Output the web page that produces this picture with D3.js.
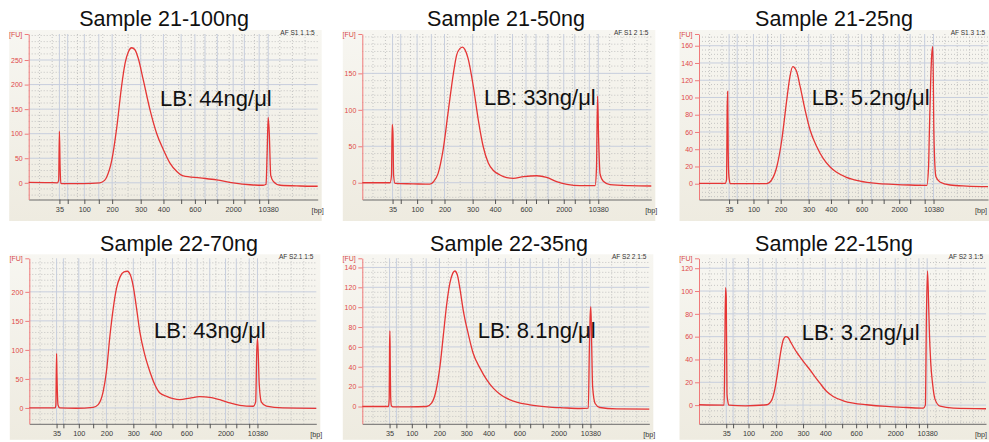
<!DOCTYPE html>
<html>
<head>
<meta charset="utf-8">
<style>
  body { margin: 0; background: #fff; }
  svg { display: block; font-family: "Liberation Sans", Arial, sans-serif; }
</style>
</head>
<body>
<script src="https://cdn.jsdelivr.net/npm/d3@7"></script>
<script>

// ---- data ----
var titles = ["Sample 21-100ng", "Sample 21-50ng", "Sample 21-25ng",
              "Sample 22-70ng", "Sample 22-35ng", "Sample 22-15ng"];
var lbLabels = ["LB: 44ng/\u03bcl", "LB: 33ng/\u03bcl", "LB: 5.2ng/\u03bcl",
                "LB: 43ng/\u03bcl", "LB: 8.1ng/\u03bcl", "LB: 3.2ng/\u03bcl"];
var runLabels = ["AF S1 1 1:5", "AF S1 2 1:5", "AF S1 3 1:5",
                 "AF S2.1 1:5", "AF S2 2 1:5", "AF S2 3 1:5"];

// ladder sizes (bp) and their migration times (s) on each chip
var ladderBp = [35, 50, 100, 150, 200, 300, 400, 500, 600, 700, 1000, 2000, 3000, 7000, 10380];
var labeledBp = [35, 100, 200, 300, 400, 600, 2000, 10380];
var ladderTimeChip1 = [48.5, 50.8, 55.4, 59.4, 63.1, 71.0, 77.3, 82.2, 86.0, 88.8, 92.2, 96.6, 99.7, 103.8, 106.3];
var ladderTimeChip2 = [47.6, 49.5, 53.8, 57.8, 61.5, 69.0, 75.2, 79.9, 83.8, 86.8, 90.3, 94.7, 97.7, 101.3, 103.6];
var panelChip = [1, 1, 1, 2, 2, 2];

var timeStart = 40;
var timeEnd = [120, 121.2, 121.7, 120, 120, 120];
var fuMin = [-34, -23, -18.3, -27.3, -17.4, -16.4];
var fuMax = [303, 204, 173.6, 257.8, 149.2, 128.7];
var fuTicks = [
  [0, 50, 100, 150, 200, 250],
  [0, 50, 100, 150],
  [0, 20, 40, 60, 80, 100, 120, 140, 160],
  [0, 50, 100, 150, 200],
  [0, 20, 40, 60, 80, 100, 120, 140],
  [0, 20, 40, 60, 80, 100, 120]
];
var fuMinor = [12.5, 10, 5, 10, 5, 5];

// traces: [time (s), fluorescence (FU)]
var trace1 = [[40,1],[45.9,0.5],[47.9,0],[48.3,5],[48.5,105],[48.7,30],[48.9,-1],[49.3,-1.5],[55.1,-1.5],[59.7,0],[61.0,5],[61.6,12],[63.0,46],[64.4,114],[65.7,196],[66.7,244],[67.6,267],[68.5,275],[69.4,271],[70.3,254],[71.7,210],[73.6,148],[75.4,101],[77.3,67],[79.1,40],[81.0,23],[82.8,14],[87.4,10],[92.0,6],[96.6,0],[101.3,-4],[104.9,-5],[105.7,-3],[106.0,60],[106.3,133],[106.6,100],[107.0,15],[107.7,3],[109.6,-5],[115.1,-6.5],[120,-7]];
var trace2 = [[40,0],[47.8,0],[48.2,10],[48.4,80],[48.6,70],[48.8,10],[49.2,-1],[54.2,-1.5],[59.0,-2],[60.0,1.4],[61.3,12.8],[62.7,45],[64.2,100],[65.6,150],[66.5,175],[67.4,184],[68.2,186],[68.8,183],[69.7,171],[71.2,132],[72.6,86],[74.0,49],[75.4,27],[76.9,16.5],[78.7,10.6],[80.6,7],[82.4,6],[85.3,8.3],[89.0,9.6],[91.8,7.4],[94.6,1.4],[97.5,-2.2],[101.2,-4],[105.4,-4],[105.8,20],[106.1,119],[106.4,60],[106.8,12],[107.7,2],[109.6,-2.5],[115.2,-4],[121.2,-4.5]];
var trace3 = [[40,0.5],[47.4,0.5],[47.8,5],[47.95,83],[48.1,107],[48.25,40],[48.4,12],[48.6,4],[48.8,0],[55,0],[59.1,0.2],[60.5,4.3],[62.0,19.7],[63.4,50.7],[64.8,97],[65.7,124],[66.5,135.7],[67.6,130],[68.6,112.5],[70.0,85.4],[71.4,62.3],[73.3,42.9],[75.1,29.4],[77.0,19.7],[78.9,13.2],[81.7,7.4],[85.5,3.1],[90.2,0.4],[94.9,-0.7],[99.6,-1.5],[104.4,-1.9],[104.9,20],[105.1,55],[105.5,120],[105.8,150],[106.1,159],[106.4,60],[106.7,20],[107.0,8],[108.1,2],[111.0,-1.5],[115.7,-2.7],[121.7,-3.4]];
var trace4 = [[40,0],[47.2,0],[47.4,5],[47.6,94],[47.7,60],[47.8,33],[48.0,5],[48.5,0],[53,-0.5],[57.8,1.1],[59.2,5.7],[60.6,28.5],[61.5,62.8],[62.5,125.7],[63.4,171.5],[64.3,205.8],[65.3,225.8],[66.4,234.4],[67.3,235.5],[68.2,228.6],[69.0,208.6],[69.9,171.5],[70.8,131.4],[72.2,91.4],[73.6,62.8],[75.0,40],[76.4,25.7],[78.3,20],[80.1,16],[82.0,14.3],[84.8,17.1],[87.5,19.4],[90.3,18.3],[93.1,14.3],[95.9,8.6],[98.7,4.6],[102.4,2.9],[103.1,10],[103.4,97],[103.6,120],[103.8,97],[104.1,40],[104.7,10],[106.1,3],[110.7,0],[120,-0.6]];
var trace5 = [[40,0],[47.3,0],[47.5,8],[47.6,60],[47.7,76],[47.8,40],[47.9,10],[48.1,1],[48.6,-0.3],[53,-0.3],[57.9,0],[59.3,3.4],[60.5,15.1],[61.7,41.9],[62.6,72.1],[63.5,102.2],[64.4,124],[65.2,134],[65.8,136.4],[66.5,132.4],[67.2,119],[68.2,95.5],[69.6,72.1],[70.9,53.6],[72.8,38.6],[74.7,26.8],[76.5,18.5],[78.4,12.4],[80.2,8.4],[83.0,4.4],[86.7,1.7],[91.4,-0.3],[96.0,-1.3],[100.7,-2],[103.0,-1.6],[103.3,60],[103.5,90],[103.7,100.5],[103.9,70],[104.2,20],[104.9,3],[106.2,-1],[110.9,-2.3],[120,-2.6]];
var trace6 = [[40,0.3],[47.0,0],[47.2,50],[47.4,103],[47.6,95],[47.8,10],[48.0,4],[48.3,0],[53,-0.6],[58.9,0.3],[60.3,4.6],[61.2,14.9],[62.1,32.4],[62.8,47],[63.5,57.2],[64.2,60.1],[64.9,59],[65.6,55],[66.4,50.5],[67.3,46],[68.2,42],[69.5,36.5],[70.9,31],[72.3,25],[73.7,19.2],[75.6,11.9],[77.4,7.6],[80.2,3.8],[83.0,1.7],[86.7,0.3],[92.3,-1.2],[97.9,-2.1],[102.5,-2.7],[103.1,0],[103.4,80],[103.7,117.6],[104.0,90],[104.2,65.8],[104.6,37],[105.1,19],[105.8,5],[107.2,-1],[110.9,-2.7],[120,-3.2]];
var traces = [trace1, trace2, trace3, trace4, trace5, trace6];

// ---- layout ----
var W = 989, H = 442;
var plotLeft = [28.7, 362.3, 699, 29.3, 362.3, 699];
var plotTop = [34, 34, 34, 258.3, 258.3, 258.3];
var plotW = [289, 289, 289, 287, 287, 287];
var plotH = 165.5;
var bgBottom = [21.5, 21.5, 21.5, 16, 16, 16];
var titleX = [164, 506, 834, 179, 509, 834];
var titleY = [25.5, 25.5, 25.5, 251, 251, 251];
var lbX = [160, 484, 811.7, 154, 477.7, 801.7];
var lbY = [106, 105, 105, 338.3, 338.3, 340];

var svg = d3.select("body").append("svg")
    .attr("width", W)
    .attr("height", H);

var defs = svg.append("defs");
var grad = defs.append("linearGradient")
    .attr("id", "bg")
    .attr("x1", 0).attr("y1", 0).attr("x2", 0).attr("y2", 1);
grad.append("stop").attr("offset", "0%").attr("stop-color", "#f7f6f1");
grad.append("stop").attr("offset", "100%").attr("stop-color", "#eeebe0");

traces.forEach(function(trace, i) {
  var w = plotW[i], h = plotH;
  var ladderTime = panelChip[i] == 1 ? ladderTimeChip1 : ladderTimeChip2;

  var x = d3.scaleLinear().domain([timeStart, timeEnd[i]]).range([0, w]);
  var y = d3.scaleLinear().domain([fuMin[i], fuMax[i]]).range([h, 0]);

  var g = svg.append("g")
      .attr("transform", "translate(" + plotLeft[i] + "," + plotTop[i] + ")");

  // panel background
  g.append("rect")
      .attr("x", -19.5)
      .attr("y", -4)
      .attr("width", w + 23.5)
      .attr("height", h + 4 + bgBottom[i])
      .attr("fill", "url(#bg)");

  // dotted minor grid
  var minorY = d3.range(Math.ceil(fuMin[i] / fuMinor[i]) * fuMinor[i], fuMax[i], fuMinor[i])
      .filter(function(v) { return fuTicks[i].indexOf(v) < 0; });
  g.selectAll(".minor-y")
      .data(minorY)
    .enter().append("line")
      .attr("x1", 0).attr("x2", w)
      .attr("y1", function(d) { return y(d); })
      .attr("y2", function(d) { return y(d); })
      .attr("stroke", "#b9b9b9")
      .attr("stroke-width", 0.8)
      .attr("stroke-dasharray", "1,2");

  g.selectAll(".minor-x")
      .data(d3.range(43, timeEnd[i], 3.5))
    .enter().append("line")
      .attr("y1", 0).attr("y2", h)
      .attr("x1", function(d) { return x(d); })
      .attr("x2", function(d) { return x(d); })
      .attr("stroke", "#b9b9b9")
      .attr("stroke-width", 0.8)
      .attr("stroke-dasharray", "1,2");

  // solid major grid
  g.selectAll(".major-y")
      .data(fuTicks[i])
    .enter().append("line")
      .attr("x1", 0).attr("x2", w)
      .attr("y1", function(d) { return y(d); })
      .attr("y2", function(d) { return y(d); })
      .attr("stroke", "#c7cedd")
      .attr("stroke-width", 1);

  g.selectAll(".major-x")
      .data(ladderTime)
    .enter().append("line")
      .attr("y1", 0).attr("y2", h)
      .attr("x1", function(d) { return x(d); })
      .attr("x2", function(d) { return x(d); })
      .attr("stroke", "#c7cedd")
      .attr("stroke-width", 1);

  // x axis (ladder ticks)
  var xAxis = d3.axisBottom(x)
      .tickValues(ladderTime)
      .tickSize(4.5)
      .tickSizeOuter(0)
      .tickPadding(2.5)
      .tickFormat(function(d, k) {
        return labeledBp.indexOf(ladderBp[k]) >= 0 ? ladderBp[k] : "";
      });
  var xa = g.append("g")
      .attr("transform", "translate(0," + h + ")")
      .call(xAxis)
      .attr("font-family", "'Liberation Sans', Arial, sans-serif")
      .attr("font-size", 7.3);
  xa.select(".domain").attr("stroke", "#6b6b6b");
  xa.selectAll(".tick line").attr("stroke", "#555");
  xa.selectAll(".tick text").attr("fill", "#3a3a3a");

  // y axis
  var yAxis = d3.axisLeft(y)
      .tickValues(fuTicks[i])
      .tickSize(4)
      .tickSizeOuter(0)
      .tickPadding(2);
  var ya = g.append("g")
      .call(yAxis)
      .attr("font-family", "'Liberation Sans', Arial, sans-serif")
      .attr("font-size", 7);
  ya.select(".domain").attr("stroke", "#f07a7a");
  ya.selectAll(".tick line").attr("stroke", "#f07a7a");
  ya.selectAll(".tick text").attr("fill", "#e04848");

  g.append("line")
      .attr("x1", -4).attr("x2", 0)
      .attr("y1", 0.5).attr("y2", 0.5)
      .attr("stroke", "#f07a7a");

  // unit labels
  g.append("text")
      .attr("x", -6.5)
      .attr("y", 2.5)
      .attr("text-anchor", "end")
      .attr("font-size", 7)
      .attr("fill", "#d84a4a")
      .text("[FU]");

  // keep "[bp]" inside the picture for the panels at the right edge
  g.append("text")
      .attr("x", Math.min(w, W - plotLeft[i] - 8))
      .attr("y", h + 13.5)
      .attr("text-anchor", "middle")
      .attr("font-size", 7.3)
      .attr("fill", "#3a3a3a")
      .text("[bp]");

  g.append("text")
      .attr("x", Math.min(w - 3, W - plotLeft[i] - 2))
      .attr("y", 0.5)
      .attr("text-anchor", "end")
      .attr("font-size", 6.5)
      .attr("fill", "#333")
      .text(runLabels[i]);

  // trace
  var line = d3.line()
      .x(function(d) { return x(d[0]); })
      .y(function(d) { return y(d[1]); })
      .curve(d3.curveMonotoneX);

  g.append("path")
      .datum(trace)
      .attr("d", line)
      .attr("fill", "none")
      .attr("stroke", "#e53535")
      .attr("stroke-width", 1.3);

  // title and annotation
  svg.append("text")
      .attr("x", titleX[i])
      .attr("y", titleY[i])
      .attr("text-anchor", "middle")
      .attr("font-size", 21.5)
      .attr("fill", "#111")
      .text(titles[i]);

  svg.append("text")
      .attr("x", lbX[i])
      .attr("y", lbY[i])
      .attr("font-size", 22)
      .attr("fill", "#111")
      .text(lbLabels[i]);
});

</script>
</body>
</html>
